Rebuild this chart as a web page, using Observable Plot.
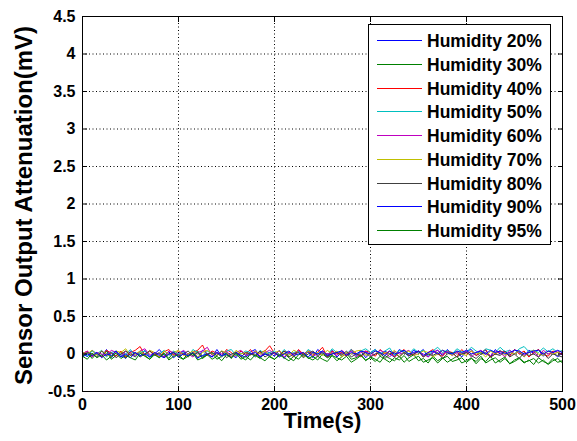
<!DOCTYPE html>
<html>
<head>
<meta charset="utf-8">
<script src="https://cdn.jsdelivr.net/npm/d3@7"></script>
<script src="https://cdn.jsdelivr.net/npm/@observablehq/plot@0.6"></script>
<style>
  body { margin: 0; background: #fff; }
  #wrap { position: relative; width: 577px; height: 441px; font-family: "Liberation Sans", Arial, sans-serif; }
  #legend { position: absolute; left: 368px; top: 24px; }
</style>
</head>
<body>
<div id="wrap"><svg id="legend" width="183" height="221"></svg></div>
<script>
const times = [0,5,10,15,20,25,30,35,40,45,50,55,60,65,70,75,80,85,90,95,
100,105,110,115,120,125,130,135,140,145,150,155,160,165,170,175,180,185,190,195,
200,205,210,215,220,225,230,235,240,245,250,255,260,265,270,275,280,285,290,295,
300,305,310,315,320,325,330,335,340,345,350,355,360,365,370,375,380,385,390,395,
400,405,410,415,420,425,430,435,440,445,450,455,460,465,470,475,480,485,490,495,500];

const h20 = [0.03,-0.04,0.05,0.00,-0.03,0.06,-0.05,0.02,-0.01,-0.06,0.04,0.01,-0.03,0.05,-0.04,0.00,0.06,-0.02,0.03,-0.05,
0.01,0.04,-0.03,0.02,-0.06,0.05,0.00,-0.04,0.06,-0.03,0.02,-0.01,-0.05,0.04,-0.02,0.03,0.06,-0.04,0.00,0.02,
-0.03,0.05,-0.06,0.02,0.00,0.04,-0.03,0.03,-0.05,0.06,0.01,-0.03,0.05,-0.04,0.02,-0.01,0.06,-0.02,0.04,-0.05,
0.02,0.06,-0.03,0.04,0.00,-0.04,0.06,0.02,-0.03,0.05,0.01,0.06,-0.04,0.02,0.05,-0.02,0.06,0.00,0.03,-0.04,
0.04,0.06,-0.02,0.02,0.05,-0.04,0.06,0.00,0.04,-0.02,0.06,0.02,-0.04,0.05,0.01,0.06,-0.03,0.04,0.02,-0.04,0.03];

const h30 = [-0.03,0.02,-0.06,0.01,-0.04,0.04,-0.07,-0.02,0.03,-0.05,0.00,-0.04,0.04,-0.02,-0.07,0.02,-0.05,0.01,-0.06,0.03,
-0.04,-0.07,0.01,-0.02,0.04,-0.06,-0.01,0.02,-0.07,-0.03,0.01,-0.06,0.03,-0.04,-0.08,0.00,-0.02,-0.06,0.02,-0.04,
-0.07,-0.02,0.01,-0.05,-0.09,-0.01,0.02,-0.06,-0.03,-0.08,0.00,-0.05,-0.02,-0.09,-0.04,0.01,-0.07,-0.05,-0.01,-0.09,
-0.04,-0.07,-0.11,-0.02,-0.06,-0.09,-0.03,-0.11,-0.05,-0.01,-0.09,-0.06,-0.12,-0.03,-0.09,-0.05,-0.11,-0.07,-0.03,-0.12,
-0.09,-0.05,-0.13,-0.06,-0.10,-0.03,-0.12,-0.08,-0.04,-0.13,-0.10,-0.06,-0.12,-0.08,-0.14,-0.05,-0.10,-0.13,-0.06,-0.11,-0.09];

const h40 = [0.00,0.04,-0.03,0.02,-0.04,0.05,0.01,-0.03,0.04,-0.04,0.02,0.05,0.10,-0.02,0.04,0.00,-0.04,0.03,0.06,-0.02,
0.04,0.00,-0.04,0.02,0.05,0.12,-0.02,0.04,0.01,-0.04,0.06,0.02,-0.03,0.04,0.00,0.06,-0.04,0.02,0.04,0.11,
0.01,-0.03,0.04,0.02,-0.04,0.06,0.00,0.04,-0.02,0.02,0.09,-0.04,0.04,0.00,0.02,-0.03,0.06,0.01,-0.04,0.04,
0.02,-0.03,0.06,0.00,0.04,-0.04,0.02,0.06,-0.02,0.00,0.04,-0.04,0.02,0.06,0.00,-0.03,0.04,0.02,-0.04,0.06,
0.00,0.04,-0.02,0.02,0.06,-0.04,0.00,0.04,0.02,-0.03,0.06,0.00,0.04,-0.04,0.02,0.06,0.00,-0.03,0.04,0.02,0.00];

const h50 = [0.02,-0.03,0.04,0.00,0.05,-0.04,0.02,0.04,-0.02,0.00,0.06,-0.03,0.02,0.04,-0.04,0.02,0.00,0.05,-0.02,0.04,
0.00,0.02,-0.04,0.06,0.02,-0.03,0.04,0.00,0.02,-0.04,0.04,0.06,-0.02,0.00,0.04,0.02,-0.04,0.05,0.00,0.02,
0.04,-0.02,0.06,0.00,0.02,0.04,-0.03,0.06,0.02,0.00,0.04,-0.02,0.07,0.02,0.04,0.00,0.06,-0.02,0.04,0.07,
0.02,0.06,0.00,0.04,0.08,-0.02,0.05,0.03,0.00,0.07,0.02,0.05,-0.02,0.04,0.09,0.02,0.05,0.00,0.07,0.03,
0.02,0.09,0.04,0.00,0.07,0.05,0.02,0.09,0.03,0.05,0.00,0.07,0.10,0.03,0.05,0.02,0.08,0.03,0.07,0.02,0.05];

const h60 = [0.00,0.04,-0.04,0.02,0.00,-0.02,0.05,0.02,-0.04,0.04,0.00,-0.03,0.04,0.07,-0.02,0.02,0.00,-0.04,0.04,0.02,
-0.02,0.05,0.00,-0.04,0.02,0.04,0.09,-0.02,0.02,0.00,0.04,-0.04,0.02,0.05,-0.02,0.00,0.04,-0.03,0.02,0.05,
0.00,0.04,-0.04,0.02,0.00,0.05,-0.02,0.04,0.02,-0.04,0.04,0.00,0.02,-0.02,0.05,0.00,0.04,-0.04,0.02,0.04,
-0.02,0.00,0.05,0.02,-0.04,0.04,0.00,0.02,0.05,-0.02,0.04,0.00,-0.04,0.02,0.05,0.00,0.04,-0.02,0.02,0.00,
0.04,-0.04,0.02,0.05,0.00,-0.02,0.04,0.02,-0.04,0.05,0.00,0.04,-0.02,0.02,0.04,-0.04,0.05,0.00,0.02,0.04,-0.02];

const h70 = [0.02,0.00,0.05,-0.02,0.04,0.00,-0.04,0.04,0.02,0.07,-0.02,0.00,0.04,-0.02,0.05,0.02,-0.04,0.04,0.00,0.02,
0.05,-0.02,0.00,0.04,-0.04,0.02,0.05,0.00,-0.02,0.04,0.02,-0.04,0.05,0.00,0.02,-0.02,0.04,0.00,0.05,-0.04,
0.02,0.04,0.00,-0.02,0.05,0.02,-0.04,0.04,0.00,0.02,-0.02,0.05,0.00,0.04,-0.04,0.02,0.00,0.04,0.05,-0.02,
0.00,0.04,-0.02,0.02,0.00,0.05,-0.04,0.02,0.04,-0.02,0.00,0.04,0.02,-0.04,0.00,0.05,0.02,-0.02,0.04,0.00,
-0.02,0.04,0.00,0.02,-0.04,0.04,0.00,0.05,-0.02,0.02,0.00,0.04,-0.04,0.02,0.05,0.00,-0.02,0.04,0.00,0.02,0.04];

const h80 = [-0.02,0.02,0.00,-0.04,0.04,-0.02,0.02,-0.05,0.00,0.04,-0.02,0.02,-0.04,0.00,0.04,-0.02,0.02,-0.05,0.00,0.02,
-0.04,0.00,0.04,-0.02,0.02,-0.04,0.00,0.02,-0.02,0.04,-0.05,0.00,0.02,-0.04,0.02,0.00,-0.02,0.04,-0.04,0.00,
0.02,-0.02,0.04,-0.04,0.00,0.02,-0.05,0.00,0.04,-0.02,0.02,-0.04,0.00,0.02,-0.02,0.04,-0.04,0.00,-0.02,0.02,
-0.04,0.00,0.02,-0.06,0.00,0.02,-0.04,0.02,-0.02,0.00,0.04,-0.04,0.00,-0.02,0.02,-0.06,0.00,0.02,-0.04,0.00,
0.02,-0.02,-0.06,0.00,0.02,-0.04,0.00,-0.02,0.04,-0.04,0.00,-0.06,0.02,-0.02,0.00,-0.04,0.02,-0.06,0.00,-0.02,-0.04];

const h90 = [-0.04,0.00,-0.02,0.02,-0.05,0.00,-0.02,0.04,-0.04,0.00,-0.05,0.02,-0.02,0.00,-0.04,0.02,-0.02,-0.05,0.00,0.02,
-0.04,0.00,-0.02,0.02,-0.05,-0.02,0.00,-0.04,0.02,-0.02,0.00,-0.05,0.02,-0.02,-0.04,0.00,0.02,-0.04,0.00,-0.02,
0.02,-0.04,0.00,0.04,-0.02,0.00,0.02,-0.04,0.02,0.00,0.04,-0.02,0.00,0.02,0.04,-0.02,0.02,0.00,0.04,0.02,
0.00,0.04,0.02,-0.02,0.04,0.00,0.02,0.05,0.00,0.02,0.04,-0.02,0.02,0.04,0.00,0.05,0.02,0.00,0.04,0.02,
0.05,0.00,0.02,0.04,0.00,0.05,0.02,0.04,0.00,0.02,0.05,0.04,0.00,0.02,0.04,0.05,0.00,0.04,0.02,0.05,0.02];

const h95 = [-0.03,-0.07,0.01,-0.05,-0.01,-0.08,-0.03,0.01,-0.06,-0.02,-0.05,-0.08,0.01,-0.03,-0.07,-0.01,-0.05,0.01,-0.08,-0.03,
-0.01,-0.07,-0.03,0.01,-0.08,-0.05,-0.01,-0.07,-0.03,-0.09,-0.01,-0.05,0.01,-0.07,-0.03,-0.08,-0.01,-0.05,-0.09,-0.03,
-0.07,-0.01,-0.05,-0.09,-0.03,-0.07,0.00,-0.05,-0.08,-0.03,-0.07,-0.10,-0.02,-0.05,-0.08,-0.03,-0.11,-0.07,-0.02,-0.08,
-0.05,-0.10,-0.03,-0.07,-0.11,-0.05,-0.08,-0.02,-0.10,-0.06,-0.03,-0.11,-0.08,-0.05,-0.12,-0.06,-0.03,-0.10,-0.08,-0.05,
-0.11,-0.06,-0.10,-0.03,-0.12,-0.08,-0.05,-0.11,-0.06,-0.13,-0.08,-0.05,-0.11,-0.09,-0.06,-0.12,-0.08,-0.14,-0.09,-0.06,-0.12];

const labels = ["Humidity 20%","Humidity 30%","Humidity 40%","Humidity 50%","Humidity 60%","Humidity 70%","Humidity 80%","Humidity 90%","Humidity 95%"];
const colors = ["#0000ff","#008000","#ff0000","#00bfbf","#bf00bf","#bfbf00","#404040","#0000ff","#008000"];
const xTicks = [0,100,200,300,400,500];
const yTicks = [-0.5,0,0.5,1,1.5,2,2.5,3,3.5,4,4.5];

const seriesList = [h20,h30,h40,h50,h60,h70,h80,h90,h95];
const data = seriesList.flatMap((vals, k) =>
  vals.map((v, i) => ({t: times[i], v, s: labels[k]})).filter(d => d.t !== undefined));

const fmt = d => String(d);
const chart = Plot.plot({
  width: 577,
  height: 441,
  marginLeft: 82,
  marginRight: 15,
  marginTop: 16,
  marginBottom: 50,
  style: {fontFamily: "'Liberation Sans', Arial, sans-serif", background: "#fff", color: "#000"},
  x: {domain: [0, 500]},
  y: {domain: [-0.5, 4.5]},
  color: {domain: labels, range: colors},
  marks: [
    Plot.gridX({ticks: xTicks, stroke: "#000", strokeOpacity: 1, strokeDasharray: "1,2.5", strokeWidth: 1}),
    Plot.gridY({ticks: yTicks, stroke: "#000", strokeOpacity: 1, strokeDasharray: "1,2.5", strokeWidth: 1}),
    Plot.line(data, {x: "t", y: "v", z: "s", stroke: "s", strokeWidth: 1}),
    Plot.frame({stroke: "#000", strokeWidth: 1}),
    Plot.axisX({ticks: xTicks, anchor: "bottom", tickSize: -5, tickFormat: () => "", label: null}),
    Plot.axisX({ticks: xTicks, anchor: "top", tickSize: -5, tickFormat: () => "", label: null}),
    Plot.axisY({ticks: yTicks, anchor: "left", tickSize: -5, tickFormat: () => "", label: null}),
    Plot.axisY({ticks: yTicks, anchor: "right", tickSize: -5, tickFormat: () => "", label: null}),
    Plot.axisX({ticks: xTicks, anchor: "bottom", tickSize: 0, tickPadding: 7, tickFormat: fmt, fontSize: 16, fontWeight: "bold", label: null}),
    Plot.axisY({ticks: yTicks, anchor: "left", tickSize: 0, tickPadding: 7, tickFormat: fmt, fontSize: 16, fontWeight: "bold", label: null}),
    Plot.text(["Time(s)"], {frameAnchor: "bottom", dy: 36, fontSize: 22, fontWeight: "bold", fill: "#000"}),
    Plot.text(["Sensor Output Attenuation(mV)"], {frameAnchor: "left", textAnchor: "middle", rotate: -90, dx: -58, dy: 1.5, fontSize: 24, fontWeight: "bold", fill: "#000"})
  ]
});
document.getElementById("wrap").prepend(chart);

const lg = d3.select("#legend");
lg.append("rect").attr("x", 0.5).attr("y", 0.5).attr("width", 182).attr("height", 220)
  .attr("fill", "#fff").attr("stroke", "#000");
labels.forEach((lab, k) => {
  const cy = Math.round(16 + k * 23.75) + 0.5;
  lg.append("line").attr("x1", 9).attr("x2", 54).attr("y1", cy).attr("y2", cy)
    .attr("stroke", colors[k]).attr("stroke-width", 1);
  lg.append("text").attr("x", 59).attr("y", cy).attr("dy", "0.35em")
    .attr("font-family", "'Liberation Sans', Arial, sans-serif")
    .attr("font-size", 17.5).attr("font-weight", "bold").attr("fill", "#000")
    .text(lab);
});
</script>
</body>
</html>
